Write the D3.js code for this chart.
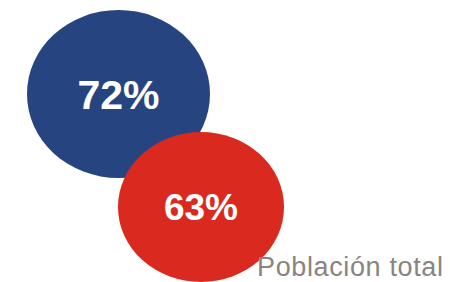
<!DOCTYPE html>
<html>
  <head>
    <meta charset="utf-8">
    <title>Población</title>
    <script src="https://cdn.jsdelivr.net/npm/d3@7"></script>
    <style>
      body { margin: 0; background: #fff; }
      svg { display: block; }
    </style>
  </head>
  <body>
    <script>
      // data
      var groups = ["g1", "g2"];
      var values = [72, 63];
      var colors = ["#264480", "#da2a1f"];
      var caption = "Población total";

      var w = 450, h = 282;

      var svg = d3.select("body").append("svg")
          .attr("width", w)
          .attr("height", h);

      // bubble centres go down and to the right
      var x = d3.scalePoint().domain(groups).range([118.5, 201]);
      var y = d3.scalePoint().domain(groups).range([94, 207]);

      // ellipse radii from the values
      var rx = d3.scaleLinear().domain([63, 72]).range([83, 91.5]);
      var ry = d3.scaleLinear().domain([63, 72]).range([75, 84]);
      var fs = d3.scaleLinear().domain([63, 72]).range([37, 41]);

      var data = groups.map(function(g, i) {
        return { key: g, value: values[i], color: colors[i] };
      });

      svg.selectAll("ellipse")
         .data(data)
         .enter()
         .append("ellipse")
         .attr("cx", function(d) { return x(d.key); })
         .attr("cy", function(d) { return y(d.key); })
         .attr("rx", function(d) { return rx(d.value); })
         .attr("ry", function(d) { return ry(d.value); })
         .style("fill", function(d) { return d.color; });

      svg.selectAll("text.val")
         .data(data)
         .enter()
         .append("text")
         .attr("class", "val")
         .attr("x", function(d) { return x(d.key); })
         .attr("y", function(d) { return y(d.key); })
         .attr("dy", function(d) { return fs(d.value) * 0.36; })
         .style("text-anchor", "middle")
         .style("font-family", "Liberation Sans, Arial, sans-serif")
         .style("font-weight", "bold")
         .style("font-size", function(d) { return fs(d.value) + "px"; })
         .style("fill", "#fff")
         .text(function(d) { return d.value + "%"; });

      // caption bottom right
      svg.append("text")
         .attr("x", 257)
         .attr("y", 276)
         .attr("textLength", 186)
         .attr("lengthAdjust", "spacing")
         .style("font-family", "Liberation Sans, Arial, sans-serif")
         .style("font-size", "27px")
         .style("fill", "#8a8481")
         .text(caption);
    </script>
  </body>
</html>
